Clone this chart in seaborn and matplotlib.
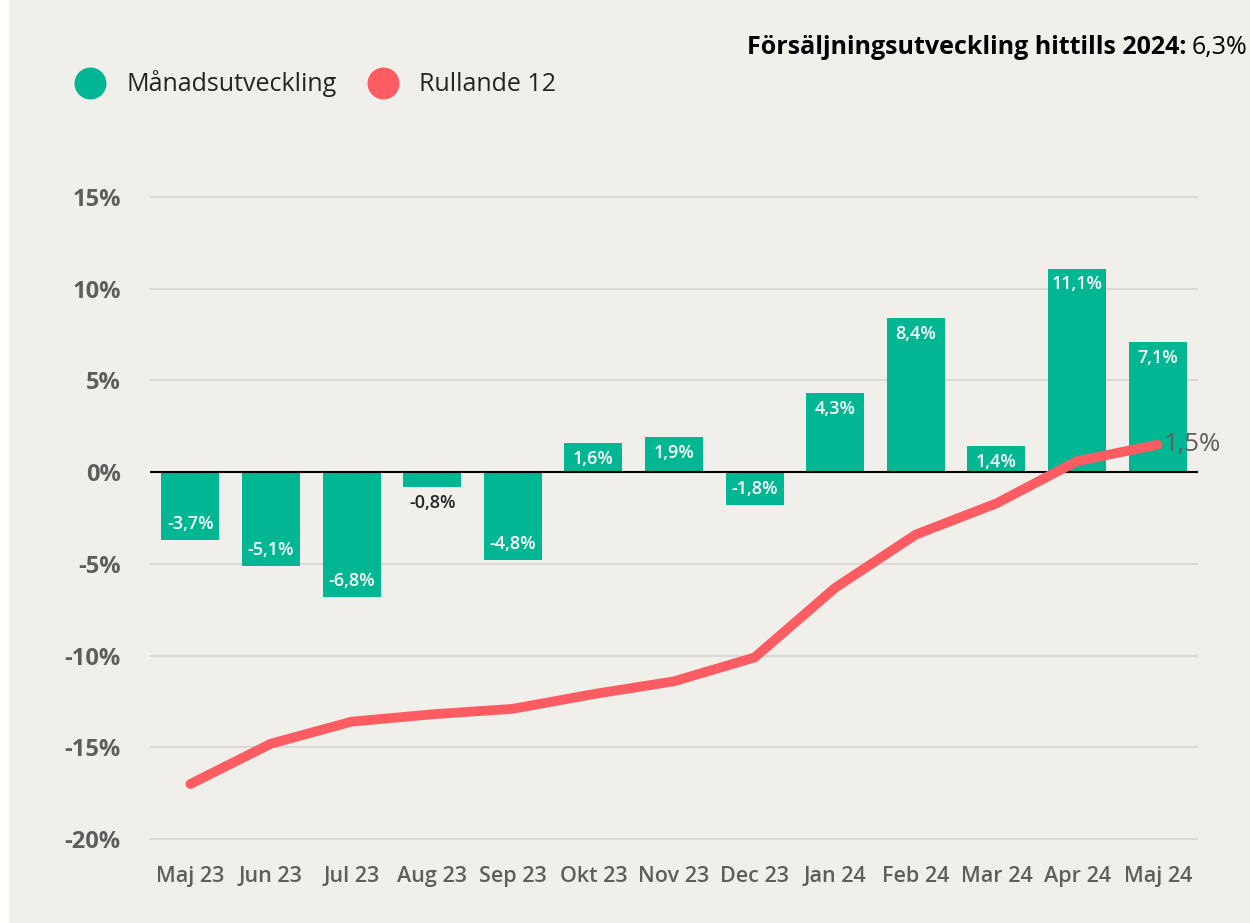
import numpy as np
import pandas as pd
import matplotlib
matplotlib.use("Agg")
import matplotlib.pyplot as plt
from matplotlib.lines import Line2D
import seaborn as sns

# data
manader = ["Maj 23", "Jun 23", "Jul 23", "Aug 23", "Sep 23", "Okt 23", "Nov 23",
           "Dec 23", "Jan 24", "Feb 24", "Mar 24", "Apr 24", "Maj 24"]
manadsutveckling = [-3.7, -5.1, -6.8, -0.8, -4.8, 1.6, 1.9, -1.8, 4.3, 8.4, 1.4, 11.1, 7.1]
rullande_12 = [-17.0, -14.8, -13.6, -13.2, -12.9, -12.1, -11.4, -10.1, -6.3, -3.4, -1.7, 0.6, 1.5]
y_ticks = [-20, -15, -10, -5, 0, 5, 10, 15]
titel_fet = "Försäljningsutveckling hittills 2024:"
titel_varde = "6,3%"

BG = "#F0EFEA"
GRON = "#01B793"
ROD = "#FD5C63"
GRA = "#605E5C"

sns.set_style("white")
plt.rcParams["font.family"] = ["Open Sans", "DejaVu Sans"]

df = pd.DataFrame({"manad": manader, "man": manadsutveckling, "rull": rullande_12})

fig = plt.figure(figsize=(12.5, 9.23), dpi=100, facecolor="white")
# beige bakgrund (vit kant till vänster)
fig.patches.append(plt.Rectangle((0.007, 0.0), 0.993, 1.0, transform=fig.transFigure,
                                 facecolor=BG, edgecolor="none", zorder=-10))
ax = fig.add_axes([0.12, 0.081, 0.8384, 0.7155])
ax.set_facecolor(BG)

sns.barplot(data=df, x="manad", y="man", color=GRON, width=0.72, saturation=1,
            linewidth=0, edgecolor="none", ax=ax, zorder=2)
sns.lineplot(data=df, x="manad", y="rull", sort=False, color=ROD, linewidth=7,
             solid_capstyle="round", solid_joinstyle="round", ax=ax, zorder=4)

ax.set_xlim(-0.5, len(manader) - 0.5)
ax.set_ylim(-20.5, 15.5)
ax.set_yticks(y_ticks)
ax.set_yticklabels([f"{t}%" for t in y_ticks])
ax.grid(axis="y", color="#DAD9D6", linewidth=1.5, zorder=0)
ax.axhline(0, color="black", linewidth=1.5, zorder=3)
for s in ax.spines.values():
    s.set_visible(False)
ax.tick_params(axis="both", length=0)
ax.tick_params(axis="y", labelsize=17, labelcolor=GRA, pad=21)
ax.tick_params(axis="x", labelsize=15.5, labelcolor=GRA, pad=13)
for lab in ax.get_yticklabels():
    lab.set_fontweight("bold")
for lab in ax.get_xticklabels():
    lab.set_fontweight("semibold")
ax.set_xlabel("")
ax.set_ylabel("")

# etiketter på staplarna
for i, v in enumerate(manadsutveckling):
    txt = f"{v:.1f}%".replace(".", ",")
    if abs(v) < 1.2:
        ax.annotate(txt, (i, v), xytext=(0, -5), textcoords="offset points",
                    ha="center", va="top", fontsize=13, fontweight="semibold",
                    color="#252423", zorder=5)
    elif v >= 0:
        ax.annotate(txt, (i, v), xytext=(0, -5), textcoords="offset points",
                    ha="center", va="top", fontsize=13, fontweight="semibold",
                    color="white", zorder=5)
    else:
        ax.annotate(txt, (i, v), xytext=(0, 5), textcoords="offset points",
                    ha="center", va="bottom", fontsize=13, fontweight="semibold",
                    color="white", zorder=5)

# slutvärde för linjen
sista = rullande_12[-1]
ax.annotate(f"{sista:.1f}%".replace(".", ","), (len(manader) - 1, sista),
            xytext=(4, 0), textcoords="offset points", ha="left", va="center",
            fontsize=18.5, color=GRA, zorder=6, annotation_clip=False)

# legend
handles = [Line2D([0], [0], marker="o", linestyle="none", markersize=22,
                  markerfacecolor=GRON, markeredgecolor=GRON),
           Line2D([0], [0], marker="o", linestyle="none", markersize=22,
                  markerfacecolor=ROD, markeredgecolor=ROD)]
fig.legend(handles, ["Månadsutveckling", "Rullande 12"], loc="center left",
           bbox_to_anchor=(0.034, 0.909), ncol=2, frameon=False, fontsize=18,
           handletextpad=0.45, columnspacing=0.85, labelcolor="#252423")

# rubrik uppe till höger
t2 = fig.text(0.998, 0.949, titel_varde, ha="right", va="center", fontsize=18,
              color="black")
fig.canvas.draw()
bb = t2.get_window_extent()
fig.text(bb.x0 / fig.bbox.width - 0.004, 0.949, titel_fet, ha="right", va="center",
         fontsize=18, fontweight="bold", color="black")

fig.savefig("out.png", dpi=100, facecolor=fig.get_facecolor())
